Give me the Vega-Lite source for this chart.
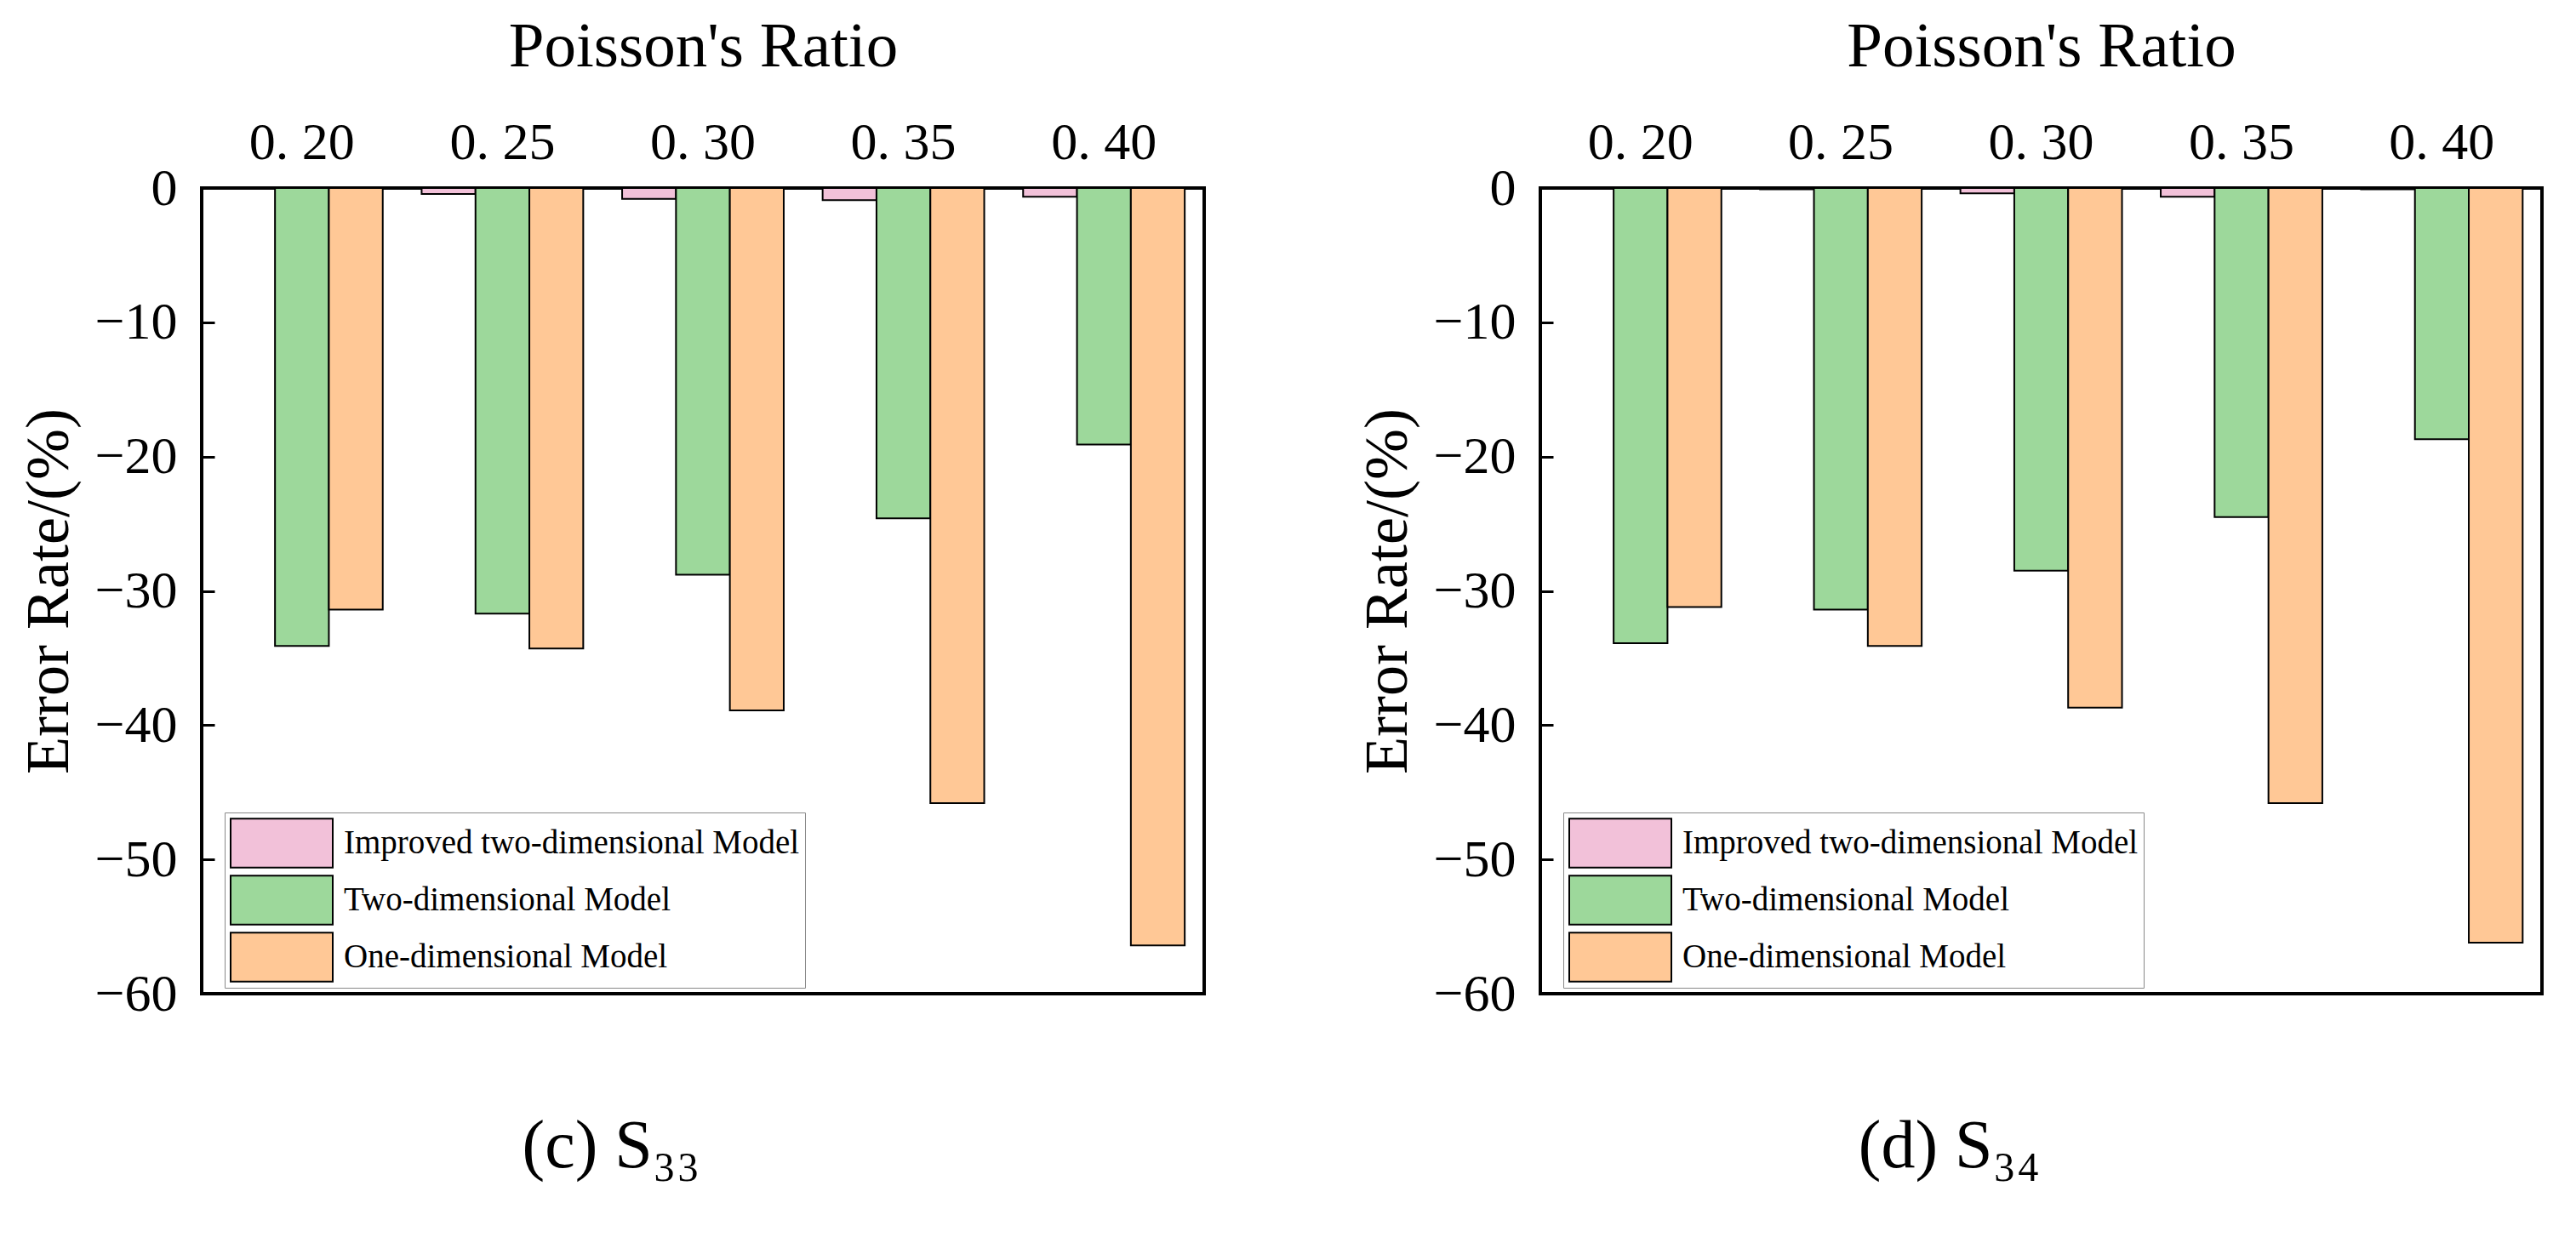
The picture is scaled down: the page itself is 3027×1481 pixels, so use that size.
{
  "$schema": "https://vega.github.io/schema/vega-lite/v6.json",
  "padding": {"left": 19, "top": 15, "right": 5, "bottom": 5},
  "background": "white",
  "datasets": {
    "rates": [
      {"panel": "c", "ratio": "0.20", "model": "Improved two-dimensional Model", "error": 0},
      {"panel": "c", "ratio": "0.20", "model": "Two-dimensional Model", "error": -34.1},
      {"panel": "c", "ratio": "0.20", "model": "One-dimensional Model", "error": -31.4},
      {"panel": "c", "ratio": "0.25", "model": "Improved two-dimensional Model", "error": -0.45},
      {"panel": "c", "ratio": "0.25", "model": "Two-dimensional Model", "error": -31.7},
      {"panel": "c", "ratio": "0.25", "model": "One-dimensional Model", "error": -34.3},
      {"panel": "c", "ratio": "0.30", "model": "Improved two-dimensional Model", "error": -0.8},
      {"panel": "c", "ratio": "0.30", "model": "Two-dimensional Model", "error": -28.8},
      {"panel": "c", "ratio": "0.30", "model": "One-dimensional Model", "error": -38.9},
      {"panel": "c", "ratio": "0.35", "model": "Improved two-dimensional Model", "error": -0.9},
      {"panel": "c", "ratio": "0.35", "model": "Two-dimensional Model", "error": -24.6},
      {"panel": "c", "ratio": "0.35", "model": "One-dimensional Model", "error": -45.8},
      {"panel": "c", "ratio": "0.40", "model": "Improved two-dimensional Model", "error": -0.65},
      {"panel": "c", "ratio": "0.40", "model": "Two-dimensional Model", "error": -19.1},
      {"panel": "c", "ratio": "0.40", "model": "One-dimensional Model", "error": -56.4},
      {"panel": "d", "ratio": "0.20", "model": "Improved two-dimensional Model", "error": 0},
      {"panel": "d", "ratio": "0.20", "model": "Two-dimensional Model", "error": -33.9},
      {"panel": "d", "ratio": "0.20", "model": "One-dimensional Model", "error": -31.2},
      {"panel": "d", "ratio": "0.25", "model": "Improved two-dimensional Model", "error": -0.1},
      {"panel": "d", "ratio": "0.25", "model": "Two-dimensional Model", "error": -31.4},
      {"panel": "d", "ratio": "0.25", "model": "One-dimensional Model", "error": -34.1},
      {"panel": "d", "ratio": "0.30", "model": "Improved two-dimensional Model", "error": -0.4},
      {"panel": "d", "ratio": "0.30", "model": "Two-dimensional Model", "error": -28.5},
      {"panel": "d", "ratio": "0.30", "model": "One-dimensional Model", "error": -38.7},
      {"panel": "d", "ratio": "0.35", "model": "Improved two-dimensional Model", "error": -0.65},
      {"panel": "d", "ratio": "0.35", "model": "Two-dimensional Model", "error": -24.5},
      {"panel": "d", "ratio": "0.35", "model": "One-dimensional Model", "error": -45.8},
      {"panel": "d", "ratio": "0.40", "model": "Improved two-dimensional Model", "error": -0.1},
      {"panel": "d", "ratio": "0.40", "model": "Two-dimensional Model", "error": -18.7},
      {"panel": "d", "ratio": "0.40", "model": "One-dimensional Model", "error": -56.2}
    ]
  },
  "data": {"name": "rates"},
  "spacing": 395,
  "bounds": "flush",
  "resolve": {"scale": {"color": "independent"}, "legend": {"color": "independent"}},
  "config": {
    "font": "Liberation Serif",
    "view": {"stroke": "black", "strokeWidth": 4},
    "axis": {
      "labelFont": "Liberation Serif",
      "titleFont": "Liberation Serif",
      "labelColor": "black",
      "titleColor": "black",
      "titleFontWeight": "normal",
      "grid": false,
      "domain": false
    },
    "title": {"font": "Liberation Serif", "color": "black", "fontWeight": "normal"},
    "legend": {
      "orient": "none",
      "legendX": 27,
      "legendY": 734,
      "title": null,
      "symbolType": "M-1,-0.48H1V0.48H-1Z",
      "symbolSize": 14400,
      "symbolStrokeColor": "black",
      "symbolStrokeWidth": 2,
      "symbolOpacity": 1,
      "clipHeight": 60,
      "labelFont": "Liberation Serif",
      "labelFontSize": 39,
      "labelColor": "black",
      "labelLimit": 0,
      "labelOffset": 12,
      "strokeColor": "#888888",
      "fillColor": "white",
      "padding": 6,
      "rowPadding": 7
    }
  },
  "hconcat": [
    {
      "width": 1178,
      "height": 947,
      "title": {"text": "(c) S₃₃", "orient": "bottom", "offset": 110, "fontSize": 80, "anchor": "middle", "frame": "bounds"},
      "transform": [{"filter": "datum.panel == 'c'"}],
      "mark": {"type": "bar", "stroke": "black", "strokeWidth": 2},
      "encoding": {
        "x": {
          "field": "ratio", "type": "nominal",
          "scale": {"paddingInner": 0.194, "paddingOuter": 0.097},
          "axis": {"orient": "top", "title": "Poisson's Ratio", "titleFontSize": 75, "titlePadding": 43, "labelFontSize": 62, "labelAngle": 0, "labelPadding": 22, "ticks": false, "labelExpr": "replace(datum.label, '.', '. ')"}
        },
        "xOffset": {"field": "model", "type": "nominal", "sort": ["Improved two-dimensional Model", "Two-dimensional Model", "One-dimensional Model"], "scale": {"paddingInner": 0, "paddingOuter": 0}},
        "y": {
          "field": "error", "type": "quantitative",
          "scale": {"domain": [-60, 0], "nice": false},
          "axis": {"title": "Error Rate/(%)", "titleFontSize": 72, "titlePadding": 17, "labelFontSize": 62, "values": [0, -10, -20, -30, -40, -50, -60], "tickSize": -15, "tickWidth": 3, "tickColor": "black", "labelPadding": 44}
        },
        "color": {
          "field": "model", "type": "nominal",
          "sort": ["Improved two-dimensional Model", "Two-dimensional Model", "One-dimensional Model"],
          "scale": {"domain": ["Improved two-dimensional Model", "Two-dimensional Model", "One-dimensional Model"], "range": ["#F2C1D9", "#9DD89B", "#FFC896"]}
        }
      }
    },
    {
      "width": 1177,
      "height": 947,
      "title": {"text": "(d) S₃₄", "orient": "bottom", "offset": 110, "fontSize": 80, "anchor": "middle", "frame": "bounds"},
      "transform": [{"filter": "datum.panel == 'd'"}],
      "mark": {"type": "bar", "stroke": "black", "strokeWidth": 2},
      "encoding": {
        "x": {
          "field": "ratio", "type": "nominal",
          "scale": {"paddingInner": 0.194, "paddingOuter": 0.097},
          "axis": {"orient": "top", "title": "Poisson's Ratio", "titleFontSize": 75, "titlePadding": 43, "labelFontSize": 62, "labelAngle": 0, "labelPadding": 22, "ticks": false, "labelExpr": "replace(datum.label, '.', '. ')"}
        },
        "xOffset": {"field": "model", "type": "nominal", "sort": ["Improved two-dimensional Model", "Two-dimensional Model", "One-dimensional Model"], "scale": {"paddingInner": 0, "paddingOuter": 0}},
        "y": {
          "field": "error", "type": "quantitative",
          "scale": {"domain": [-60, 0], "nice": false},
          "axis": {"title": "Error Rate/(%)", "titleFontSize": 72, "titlePadding": 17, "labelFontSize": 62, "values": [0, -10, -20, -30, -40, -50, -60], "tickSize": -15, "tickWidth": 3, "tickColor": "black", "labelPadding": 44}
        },
        "color": {
          "field": "model", "type": "nominal",
          "sort": ["Improved two-dimensional Model", "Two-dimensional Model", "One-dimensional Model"],
          "scale": {"domain": ["Improved two-dimensional Model", "Two-dimensional Model", "One-dimensional Model"], "range": ["#F2C1D9", "#9DD89B", "#FFC896"]}
        }
      }
    }
  ]
}
